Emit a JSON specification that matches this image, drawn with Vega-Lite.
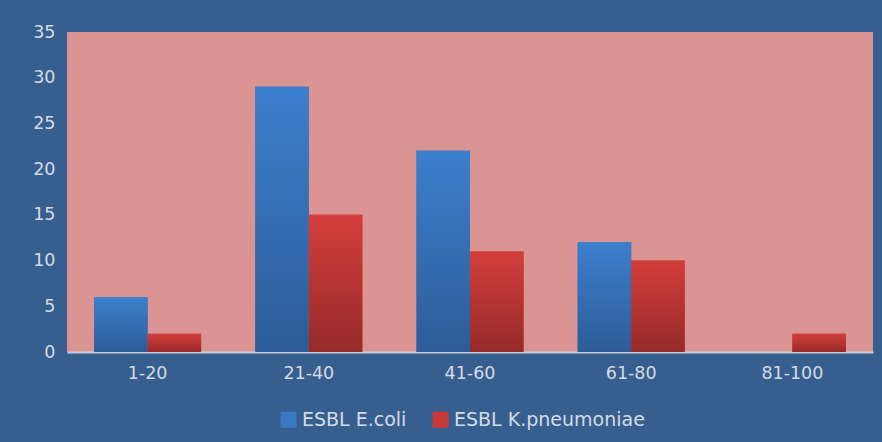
{
  "$schema": "https://vega.github.io/schema/vega-lite/v6.json",
  "width": 806,
  "height": 320,
  "autosize": "none",
  "padding": {"left": 67, "top": 32, "right": 9, "bottom": 90},
  "background": "#365f8f",
  "data": {
    "values": [
      {"age": "1-20", "species": "ESBL E.coli", "count": 6},
      {"age": "1-20", "species": "ESBL K.pneumoniae", "count": 2},
      {"age": "21-40", "species": "ESBL E.coli", "count": 29},
      {"age": "21-40", "species": "ESBL K.pneumoniae", "count": 15},
      {"age": "41-60", "species": "ESBL E.coli", "count": 22},
      {"age": "41-60", "species": "ESBL K.pneumoniae", "count": 11},
      {"age": "61-80", "species": "ESBL E.coli", "count": 12},
      {"age": "61-80", "species": "ESBL K.pneumoniae", "count": 10},
      {"age": "81-100", "species": "ESBL E.coli", "count": 0},
      {"age": "81-100", "species": "ESBL K.pneumoniae", "count": 2}
    ]
  },
  "encoding": {
    "x": {
      "field": "age", "type": "nominal", "sort": null,
      "scale": {"paddingInner": 0.336, "paddingOuter": 0.168},
      "axis": {"title": null, "labelAngle": 0, "ticks": false, "labelPadding": 12, "domainColor": "#c9d0dc", "domainWidth": 2}
    },
    "xOffset": {
      "field": "species", "type": "nominal",
      "scale": {"domain": ["ESBL E.coli", "ESBL K.pneumoniae"], "paddingInner": 0, "paddingOuter": 0}
    },
    "y": {
      "field": "count", "type": "quantitative",
      "scale": {"domain": [0, 35], "nice": false},
      "axis": {"title": null, "values": [0, 5, 10, 15, 20, 25, 30, 35], "grid": false, "domain": false, "ticks": false, "labelPadding": 12}
    }
  },
  "layer": [
    {
      "mark": {"type": "bar"},
      "encoding": {
        "color": {
          "field": "species", "type": "nominal",
          "scale": {"domain": ["ESBL E.coli", "ESBL K.pneumoniae"], "range": ["#3a78c4", "#c93a37"]},
          "legend": {
            "title": null, "orient": "none", "direction": "horizontal",
            "legendX": 212, "legendY": 378,
            "symbolType": "square", "symbolSize": 256, "symbolOpacity": 1,
            "labelFontSize": 19, "labelColor": "#d5dbe4", "labelFont": "DejaVu Sans",
            "labelOffset": 4, "columnPadding": 24, "labelLimit": 400
          }
        }
      }
    },
    {
      "transform": [{"filter": "datum.species === 'ESBL E.coli'"}],
      "mark": {
        "type": "bar",
        "color": {"gradient": "linear", "x1": 0, "y1": 0, "x2": 0, "y2": 1,
          "stops": [{"offset": 0, "color": "#3c7fcd"}, {"offset": 1, "color": "#2d5c98"}]}
      }
    },
    {
      "transform": [{"filter": "datum.species === 'ESBL K.pneumoniae'"}],
      "mark": {
        "type": "bar",
        "color": {"gradient": "linear", "x1": 0, "y1": 0, "x2": 0, "y2": 1,
          "stops": [{"offset": 0, "color": "#d33e3b"}, {"offset": 1, "color": "#962a2a"}]}
      }
    }
  ],
  "config": {
    "view": {"fill": "#d99493", "stroke": null},
    "axis": {"labelFont": "DejaVu Sans", "labelFontSize": 17.5, "labelColor": "#d5dbe4"}
  }
}
